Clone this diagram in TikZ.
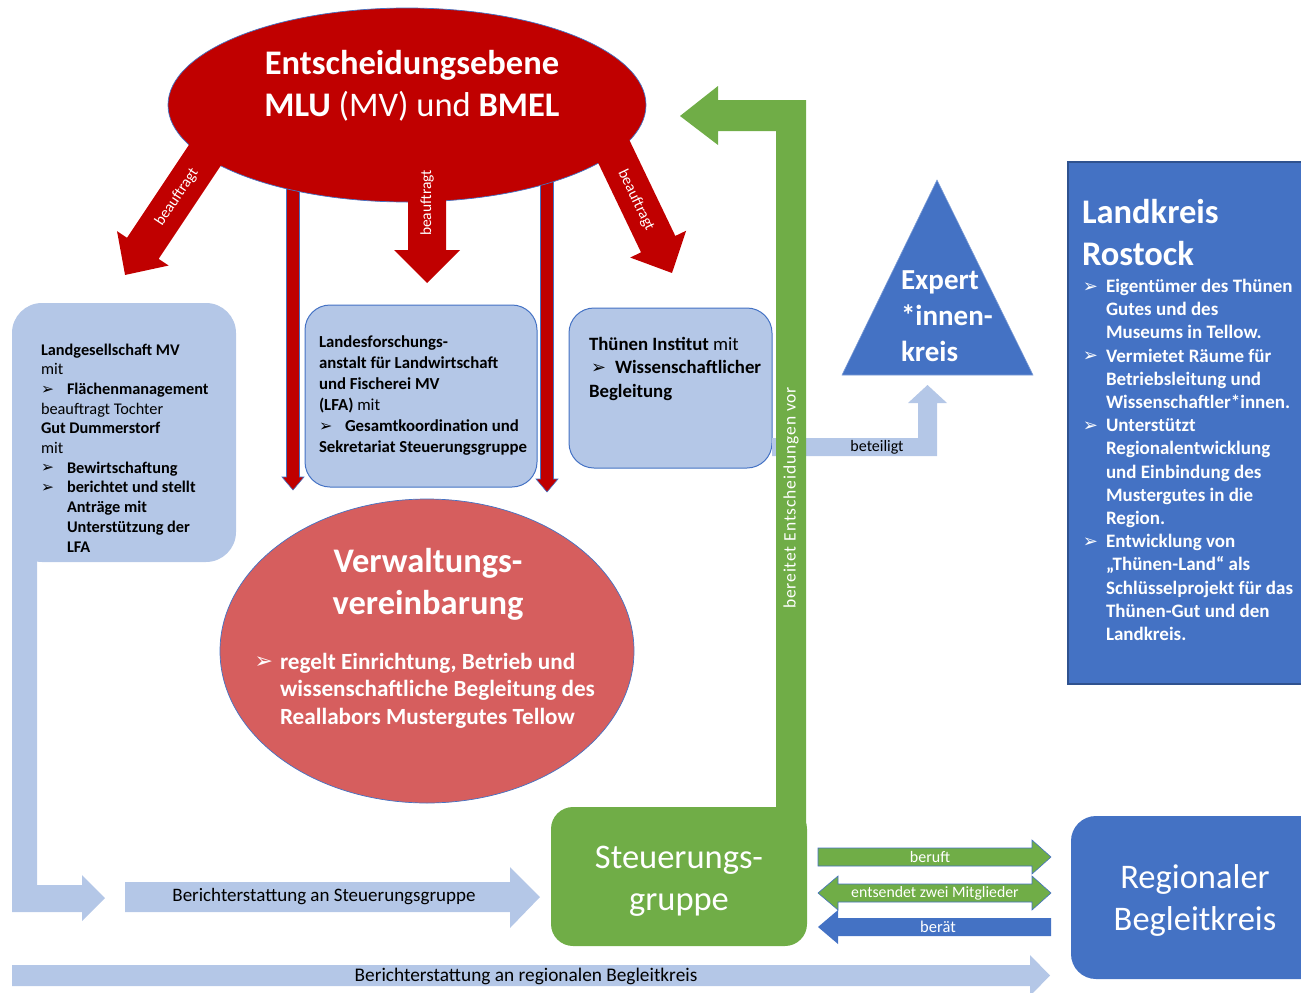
\documentclass[tikz,border=0pt]{standalone}
\usepackage{fontspec}
\usepackage{graphicx}
\setmainfont{Carlito}
\newfontfamily\dejavu{DejaVu Sans}
\usetikzlibrary{shapes.geometric}
\definecolor{dred}{HTML}{C00000}
\definecolor{mred}{HTML}{D65E5E}
\definecolor{lblue}{HTML}{B4C7E7}
\definecolor{mblue}{HTML}{4472C4}
\definecolor{bdblue}{HTML}{2F528F}
\definecolor{grn}{HTML}{70AD47}
\newcommand\fs[1]{\fontsize{#1}{#1}\selectfont}
\newcommand\bul{\raisebox{0.3pt}{\scalebox{0.95}{\dejavu ➢}}}
\newcommand\LinesL[2]{\vtop{\baselineskip=#1\lineskip=0pt\lineskiplimit=-100pt\halign{##\hfil\cr#2\crcr}}}
\newcommand\LinesC[2]{\vtop{\baselineskip=#1\lineskip=0pt\lineskiplimit=-100pt\halign{\hfil##\hfil\cr#2\crcr}}}
% block arrow: #1 options, #2 start, #3 angle, #4 length, #5 half shaft, #6 half head, #7 head length
\newcommand\BArrow[7]{\path[#1, shift={#2}, rotate=#3] (0,-#5) -- ({#4-#7},-#5) -- ({#4-#7},-#6) -- (#4,0) -- ({#4-#7},#6) -- ({#4-#7},#5) -- (0,#5) -- cycle;}
\begin{document}
\begin{tikzpicture}[x=1pt,y=-1pt,
  txt/.style={inner sep=0pt, outer sep=0pt},
  lbl/.style={inner sep=0pt, font=\fs{15.5}},
  roundbox/.style={rounded corners=#1, inner sep=0pt},
  thinred/.style={fill=dred, draw=mblue, line width=0.6pt}]
\useasboundingbox (0,0) rectangle (1301,993);
\clip (0,0) rectangle (1301,993);

% thin red arrows (behind the top ellipse)
\BArrow{thinred}{(293,180)}{-90}{310}{6.5}{11}{13}
\BArrow{thinred}{(547,174)}{-90}{318}{6.5}{11}{13}

% top ellipse
\node[ellipse, fill=dred, draw=mblue, line width=0.7pt, minimum width=478pt, minimum height=194pt, inner sep=0pt] (top) at (407,105) {};
\node[txt, anchor=base, text=white] (toptext) at (412,74) {\fs{34.5}\LinesC{42pt}{\bfseries Entscheidungsebene\cr \textbf{MLU} (MV) und \textbf{BMEL}}};

% big red arrows "beauftragt"
\BArrow{fill=dred}{(216.6,137.7)}{236.3}{165}{19}{31}{32}
\BArrow{fill=dred}{(427,150)}{-90}{133}{19}{33}{33}
\BArrow{fill=dred}{(600.7,124.2)}{-64.4}{165}{19}{31}{32}
\node[lbl, text=white, rotate=56.3] (bf1) at (177,197) {beauftragt};
\node[lbl, text=white, rotate=90] (bf2) at (427,203) {beauftragt};
\node[lbl, text=white, rotate=-64.4] (bf3) at (636,200) {beauftragt};

% Landgesellschaft box with L-shaped reporting arrow
\node[roundbox=30pt, fill=lblue, minimum width=224pt, minimum height=259pt] (lg) at (124,432.5) {};
\fill[lblue] (12,480) -- (12,912) -- (82,912) -- (82,921) -- (105,898) -- (82,875) -- (82,885) -- (37,885) -- (37,480) -- cycle;
\node[txt, anchor=base west] (lgtext) at (41,355) {\fs{16.3}\LinesL{19.7pt}{%
\textbf{Landgesellschaft MV}\cr
mit\cr
\makebox[26pt][l]{\bul}\textbf{Flächenmanagement}\cr
beauftragt Tochter\cr
\textbf{Gut Dummerstorf}\cr
mit\cr
\makebox[26pt][l]{\bul}\textbf{Bewirtschaftung}\cr
\makebox[26pt][l]{\bul}\textbf{berichtet und stellt}\cr
\hspace*{26pt}\textbf{Anträge mit}\cr
\hspace*{26pt}\textbf{Unterstützung der}\cr
\hspace*{26pt}\textbf{LFA}}};

% LFA box
\node[roundbox=25pt, fill=lblue, draw=mblue, line width=1pt, minimum width=232pt, minimum height=182pt] (lfa) at (421,396) {};
\node[txt, anchor=base west] (lfatext) at (319,347.5) {\fs{16.8}\LinesL{21pt}{%
\textbf{Landesforschungs-}\cr
\textbf{anstalt für Landwirtschaft}\cr
\textbf{und Fischerei MV}\cr
\textbf{(LFA)} mit\cr
\makebox[26pt][l]{\bul}\textbf{Gesamtkoordination und}\cr
\textbf{Sekretariat Steuerungsgruppe}}};

% Thuenen box
\node[roundbox=25pt, fill=lblue, draw=mblue, line width=1pt, minimum width=203pt, minimum height=160pt] (ti) at (670.5,388) {};
\node[txt, anchor=base west] (titext) at (589,350) {\fs{18.8}\LinesL{23.5pt}{%
\textbf{Thünen Institut} mit\cr
\hspace*{2pt}\makebox[24pt][l]{\bul}\textbf{Wissenschaftlicher}\cr
\textbf{Begleitung}}};

% beteiligt arrow
\fill[lblue] (772,438) -- (918,438) -- (918,403) -- (908,403) -- (927.5,385) -- (947,403) -- (937,403) -- (937,456) -- (772,456) -- cycle;
\node[lbl, font=\fs{16}] (bet) at (877,447) {beteiligt};

% Verwaltungsvereinbarung
\node[ellipse, fill=mred, draw=mblue, line width=0.7pt, minimum width=414pt, minimum height=304pt, inner sep=0pt] (vv) at (427,651) {};
\node[txt, anchor=base, text=white] (vvtitle) at (428,572) {\fs{34.5}\bfseries\LinesC{42pt}{Verwaltungs-\cr vereinbarung}};
\node[txt, anchor=base west, text=white] (vvtext) at (280,669) {\fs{23.2}\bfseries\LinesL{27.5pt}{%
\llap{\bul\hspace{7pt}}regelt Einrichtung, Betrieb und\cr
wissenschaftliche Begleitung des\cr
Reallabors Mustergutes Tellow}};

% Steuerungsgruppe
\node[roundbox=22pt, fill=grn, minimum width=256pt, minimum height=139pt] (sg) at (679,876.5) {};
\node[txt, anchor=base, text=white] (sgtext) at (679,868) {\fs{34.5}\LinesC{42pt}{Steuerungs-\cr gruppe}};

% green arrow "bereitet Entscheidungen vor"
\fill[grn] (776,835) -- (776,131) -- (718,131) -- (718,145) -- (680,116) -- (718,86) -- (718,100) -- (806,100) -- (806,835) -- cycle;
\node[lbl, text=white, rotate=90, font={\fs{17.5}\addfontfeature{LetterSpace=5}}] (bev) at (791,498) {bereitet Entscheidungen vor};

% Expert*innenkreis
\path[fill=mblue, draw=mblue!70!white, line width=0.6pt] (937,180) -- (1033,375) -- (842,375) -- cycle;
\node[txt, anchor=base west, text=white] (ex) at (901,289) {\fs{29}\bfseries\LinesL{36pt}{Expert\cr *innen-\cr kreis}};

% Landkreis Rostock
\path[fill=mblue, draw=bdblue, line width=1.2pt] (1068,162) rectangle (1320,684);
\node[txt, anchor=base west, text=white] (lkt) at (1082,223) {\fs{34.5}\bfseries\LinesL{42pt}{Landkreis\cr Rostock}};
\node[txt, anchor=base west, text=white] (lkl) at (1106,292.5) {\fs{19}\bfseries\LinesL{23.2pt}{%
\llap{\bul\hspace{8pt}}Eigentümer des Thünen\cr
Gutes und des\cr
Museums in Tellow.\cr
\llap{\bul\hspace{8pt}}Vermietet Räume für\cr
Betriebsleitung und\cr
Wissenschaftler*innen.\cr
\llap{\bul\hspace{8pt}}Unterstützt\cr
Regionalentwicklung\cr
und Einbindung des\cr
Mustergutes in die\cr
Region.\cr
\llap{\bul\hspace{8pt}}Entwicklung von\cr
„Thünen-Land“ als\cr
Schlüsselprojekt für das\cr
Thünen-Gut und den\cr
Landkreis.}};

% Regionaler Begleitkreis
\node[roundbox=25pt, fill=mblue, minimum width=260pt, minimum height=163pt] (rb) at (1201,897.5) {};
\node[txt, anchor=base, text=white] (rbtext) at (1195,888) {\fs{34.5}\LinesC{42pt}{Regionaler\cr Begleitkreis}};

% arrows between Steuerungsgruppe and Regionaler Begleitkreis
\path[fill=grn, draw=mblue, line width=0.6pt] (818,848) -- (1032,848) -- (1032,840) -- (1051,857) -- (1032,874) -- (1032,866) -- (818,866) -- cycle;
\node[lbl, text=white, font=\fs{16}] (beruft) at (930,857) {beruft};
\path[fill=grn, draw=mblue, line width=0.6pt] (818,893) -- (838,876) -- (838,884) -- (1032,884) -- (1032,876) -- (1051,893) -- (1032,910) -- (1032,902) -- (838,902) -- (838,910) -- cycle;
\node[lbl, text=white, font=\fs{15.8}] (ents) at (935,893) {entsendet zwei Mitglieder};
\fill[mblue] (818,927) -- (838,910) -- (838,918) -- (1051,918) -- (1051,936) -- (838,936) -- (838,944) -- cycle;
\node[lbl, text=white, font=\fs{16.5}] (berat) at (938,927) {berät};

% reporting arrows
\fill[lblue] (125,882) -- (510,882) -- (510,867) -- (540,897) -- (510,928) -- (510,912) -- (125,912) -- cycle;
\node[lbl, font=\fs{19}] (ber1) at (324,897) {Berichterstattung an Steuerungsgruppe};
\fill[lblue] (12,965) -- (1030,965) -- (1030,955) -- (1050,975.5) -- (1030,996) -- (1030,986) -- (12,986) -- cycle;
\node[lbl, font=\fs{19.3}] (ber2) at (526,976) {Berichterstattung an regionalen Begleitkreis};
\end{tikzpicture}
\end{document}
